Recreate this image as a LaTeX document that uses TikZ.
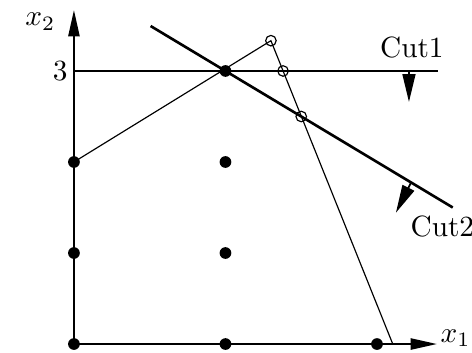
\documentclass[tikz,border=0pt]{standalone}
\usetikzlibrary{arrows.meta}
\begin{document}
\begin{tikzpicture}[x=1.818cm,y=1.092cm,
    dot/.style={circle,fill,inner sep=0pt,minimum size=4pt},
    hole/.style={circle,draw,inner sep=0pt,minimum size=3.6pt,line width=0.4pt},
    axistip/.style={-{Triangle[length=9pt,width=3.8pt]}},
    cuttip/.style={-{Triangle[length=9.5pt,width=4.4pt]}}]
    \useasboundingbox (-0.488,-0.088) rectangle (2.627,3.780);
    % axes
    \coordinate (o) at (0,0);
    \coordinate (xtip) at (2.396,0);
    \coordinate (ytip) at (0,3.67);
    \draw[axistip,line width=0.7pt] (o) -- (xtip);
    \draw[axistip,line width=0.7pt] (o) -- (ytip);
    \node[anchor=west,inner sep=1pt,yshift=2pt] (xlab) at (xtip) {$x_1$};
    \node[anchor=east,inner sep=1pt] (ylab) at (-0.1,3.54) {$x_2$};
    % LP relaxation
    \coordinate (lpa) at (0,2);
    \coordinate (lpb) at (1.3,3.333);
    \coordinate (lpc) at (2.104,0);
    \draw[line width=0.4pt] (lpa) -- (lpb) -- (lpc);
    % Cut1
    \coordinate (c1a) at (0,3);
    \coordinate (c1b) at (2.40,3);
    \draw[line width=0.6pt] (c1a) -- (c1b);
    \node[anchor=east,inner sep=2pt] (three) at (c1a) {$3$};
    \coordinate (c1s) at (2.211,3);
    \coordinate (c1e) at (2.211,2.66);
    \draw[cuttip,line width=0.6pt] (c1s) -- (c1e);
    \node (cut1) at (2.23,3.26) {Cut1};
    % Cut2
    \coordinate (c2a) at (0.506,3.494);
    \coordinate (c2b) at (2.50,1.50);
    \draw[line width=0.9pt] (c2a) -- (c2b);
    \coordinate (c2s) at (2.225,1.775);
    \coordinate (c2e) at (2.125,1.443);
    \draw[cuttip,line width=0.6pt] (c2s) -- (c2e);
    \node[anchor=west,inner sep=0pt] (cut2) at (2.218,1.286) {Cut2};
    % integer points
    \foreach \px/\py in {0/0,1/0,2/0,0/1,1/1,0/2,1/2,1/3}
        \node[dot] (p\px\py) at (\px,\py) {};
    % vertices cut off
    \node[hole] (h1) at (lpb) {};
    \node[hole] (h2) at (1.38,3) {};
    \node[hole] (h3) at (1.5,2.5) {};
\end{tikzpicture}
\end{document}
